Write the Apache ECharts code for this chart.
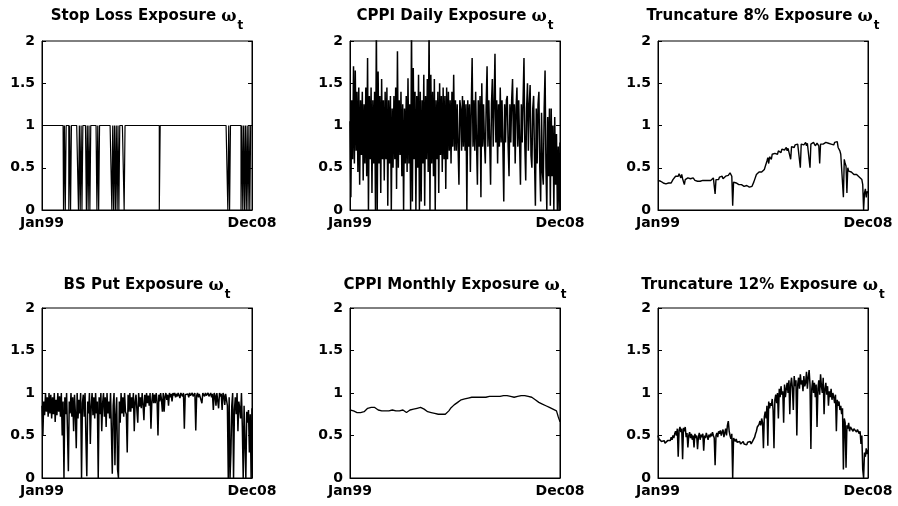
<!DOCTYPE html>
<html><head><meta charset="utf-8">
<script src="https://cdn.jsdelivr.net/npm/echarts@6/dist/echarts.min.js"></script>
<style>html,body{margin:0;padding:0;background:#fff}#c{width:898px;height:506px}</style>
</head><body><div id="c"></div>
<script>
// ---- categories ----
const monthNames = ['Jan','Feb','Mar','Apr','May','Jun','Jul','Aug','Sep','Oct','Nov','Dec'];
const yearCodes = ['99','00','01','02','03','04','05','06','07','08'];
const months = [];
yearCodes.forEach(y => monthNames.forEach(m => months.push(m + y)));      // 120 monthly periods
const halfMonths = [];
months.forEach(m => { halfMonths.push(m + 'a'); halfMonths.push(m + 'b'); }); // 240 half-month periods
const yTicks = [0, 0.5, 1, 1.5, 2];

// ---- series values ----
const stopLoss = [
1,1,1,1,1,1,1,1,1,1, 1,1,1,1,1,1,1,1,1,1,
1,1,1,1,1,0,1,0,1,1, 1,0,1,0,1,1,1,1,1,1,
1,1,0,1,0,1,0,1,1,1, 1,0,1,0,1,0,1,1,1,1,
1,1,1,0,1,0,1,1,1,1, 1,1,1,1,1,1,1,1,1,1,
0,1,0,1,0,1,0,1,0,1, 1,1,1,1,0,1,1,1,1,1,
1,1,1,1,1,1,1,1,1,1, 1,1,1,1,1,1,1,1,1,1,
1,1,1,1,1,1,1,1,1,1, 1,1,1,1,0,1,1,1,1,1,
1,1,1,1,1,1,1,1,1,1, 1,1,1,1,1,1,1,1,1,1,
1,1,1,1,1,1,1,1,1,1, 1,1,1,1,1,1,1,1,1,1,
1,1,1,1,1,1,1,1,1,1, 1,1,1,1,1,1,1,1,1,1,
1,1,1,1,1,1,1,1,1,1, 1,1,0,1,0,1,1,1,1,1,
1,1,1,1,1,1,1,0,1,0, 1,0,1,0,1,0,1,0,1,1
];

const cppiDaily = [
1.05,0.15,1.30,0.60,1.70,0.55,1.65,0.70,1.40,0.45,
1.45,0.30,1.30,0.65,1.40,0.35,1.25,0.55,1.45,0.40,
1.80,0.00,1.35,0.60,1.45,0.20,1.30,0.55,1.40,0.00,
2.20,0.00,1.64,0.55,1.35,0.20,1.55,0.60,1.30,0.35,
1.40,0.60,1.45,0.05,1.30,0.55,1.35,0.00,1.20,0.50,
1.35,0.60,1.45,0.25,1.88,0.50,1.30,0.65,1.40,0.40,
1.25,0.00,1.20,0.55,1.35,0.45,1.56,0.55,1.25,0.00,
2.20,0.10,1.68,0.60,1.40,0.00,1.35,0.50,1.60,0.00,
1.40,0.10,1.30,0.55,1.60,0.05,1.35,0.60,1.55,0.45,
2.20,0.00,1.60,0.55,1.40,0.40,1.55,0.00,1.30,0.60,
1.40,0.20,1.50,0.65,1.35,0.45,1.45,0.60,1.35,0.25,
1.45,0.60,1.40,0.70,1.30,0.55,1.40,0.75,1.60,0.70,
1.30,0.70,1.25,0.75,0.30,1.30,1.20,0.70,1.35,0.75,
1.30,0.70,1.25,0.00,1.30,0.75,1.25,0.45,1.20,1.80,
0.75,1.30,0.70,1.40,0.80,0.30,1.30,0.75,1.35,0.15,
1.50,0.75,1.25,0.80,0.55,1.25,1.70,0.75,1.30,0.80,
0.30,1.25,1.55,0.75,1.25,1.85,0.80,1.30,0.55,1.25,
0.75,1.45,0.80,1.30,0.75,0.10,1.25,0.80,1.30,1.35,
0.75,0.40,1.25,0.80,1.30,1.55,0.75,1.25,0.55,1.20,
1.45,0.75,1.30,0.80,0.30,1.25,0.80,1.30,1.80,0.75,
0.35,1.20,1.50,0.70,1.25,1.48,0.65,0.50,1.20,1.35,
0.60,0.05,1.20,0.55,1.25,1.40,0.50,0.10,1.15,0.45,
0.30,1.20,1.65,0.50,0.00,1.10,0.40,1.20,0.05,1.20,
0.40,1.00,0.00,1.10,0.30,0.90,0.00,0.75,0.00,0.80
];

const trunc8 = [
0.35,0.34,0.35,0.34,0.33,0.34,0.32,0.31,0.32,0.31,
0.32,0.31,0.32,0.31,0.33,0.32,0.34,0.36,0.35,0.38,
0.40,0.39,0.42,0.40,0.43,0.41,0.38,0.42,0.37,0.36,
0.30,0.36,0.37,0.35,0.38,0.36,0.40,0.37,0.35,0.36,
0.38,0.36,0.35,0.37,0.36,0.34,0.36,0.35,0.34,0.35,
0.33,0.35,0.34,0.36,0.35,0.34,0.33,0.35,0.36,0.34,
0.35,0.37,0.36,0.38,0.37,0.19,0.36,0.37,0.38,0.36,
0.39,0.37,0.38,0.40,0.37,0.39,0.38,0.40,0.41,0.42,
0.41,0.43,0.44,0.45,0.40,0.05,0.33,0.32,0.34,0.32,
0.31,0.32,0.30,0.31,0.29,0.30,0.29,0.30,0.28,0.29,
0.28,0.29,0.28,0.28,0.27,0.28,0.29,0.28,0.30,0.33,
0.34,0.35,0.42,0.44,0.43,0.45,0.44,0.46,0.45,0.47,
0.46,0.48,0.50,0.49,0.58,0.62,0.55,0.63,0.65,0.60,
0.66,0.68,0.64,0.67,0.69,0.68,0.66,0.70,0.69,0.71,
0.68,0.72,0.70,0.73,0.71,0.72,0.74,0.70,0.73,0.75,
0.74,0.60,0.75,0.73,0.76,0.74,0.77,0.75,0.76,0.78,
0.77,0.79,0.50,0.78,0.76,0.79,0.77,0.78,0.80,0.76,
0.79,0.78,0.77,0.50,0.78,0.79,0.77,0.80,0.78,0.76,
0.78,0.79,0.77,0.76,0.55,0.78,0.79,0.80,0.78,0.77,
0.79,0.80,0.78,0.81,0.79,0.77,0.80,0.78,0.76,0.79,
0.77,0.80,0.78,0.79,0.81,0.74,0.72,0.70,0.66,0.68,
0.65,0.15,0.60,0.55,0.52,0.20,0.50,0.46,0.45,0.44,
0.45,0.43,0.44,0.42,0.43,0.41,0.42,0.40,0.41,0.39,
0.38,0.37,0.36,0.30,0.00,0.20,0.25,0.15,0.22,0.20
];

const bsPut = [
0.85,0.50,0.90,0.74,1.00,0.78,0.95,0.72,1.00,0.76,
0.98,0.70,0.95,0.75,1.00,0.66,0.92,0.74,1.00,0.78,
0.96,0.72,1.00,0.50,0.90,0.00,0.95,0.75,1.00,0.55,
0.08,0.90,0.76,1.00,0.72,0.95,0.55,0.98,0.76,0.35,
1.00,0.70,0.92,0.76,1.00,0.00,0.88,0.98,0.72,1.00,
0.45,0.02,0.90,0.76,1.00,0.40,0.85,1.00,0.74,0.95,
0.70,1.00,0.76,0.90,0.00,0.95,0.75,1.00,0.55,0.88,
1.00,0.72,0.95,0.60,1.00,0.76,0.90,0.70,1.00,0.55,
0.05,0.85,1.00,0.15,0.74,0.95,0.10,0.00,0.90,0.65,
1.00,0.76,0.95,0.72,1.00,0.78,0.75,0.30,0.98,0.78,
1.00,0.78,0.95,0.82,1.00,0.55,0.90,0.98,0.80,0.65,
1.00,0.84,0.95,0.82,1.00,0.86,0.68,0.98,0.84,1.00,
0.88,0.97,0.85,1.00,0.58,0.90,1.00,0.88,0.98,0.88,
1.00,0.90,0.50,0.98,0.90,1.00,0.92,0.78,1.00,0.78,
0.96,1.00,0.92,0.98,0.85,1.00,0.95,0.99,0.90,1.00,
0.97,1.00,0.95,0.99,0.96,1.00,0.97,0.94,1.00,0.98,
0.96,1.00,0.58,0.98,1.00,0.96,0.99,0.95,1.00,0.97,
0.99,1.00,0.96,0.98,1.00,0.56,0.97,1.00,0.95,0.99,
1.00,0.97,0.88,1.00,0.98,0.96,1.00,0.97,0.99,1.00,
0.96,0.98,1.00,0.95,0.99,0.80,1.00,0.97,0.85,1.00,
0.98,0.82,1.00,0.96,0.99,0.80,1.00,0.97,0.86,0.99,
1.00,0.85,0.00,0.95,0.00,0.30,0.85,1.00,0.00,0.80,
0.95,0.75,1.00,0.55,0.90,0.82,0.70,1.00,0.60,0.00,
0.85,0.40,0.00,0.78,0.65,0.80,0.30,0.75,0.00,0.82
];

const cppiMonthly = [
0.80,0.79,0.79,0.78,0.77, 0.76,0.77,0.78,0.78,0.79,
0.82,0.83,0.83,0.84,0.83, 0.82,0.80,0.79,0.79,0.80,
0.79,0.80,0.79,0.79,0.80, 0.79,0.79,0.80,0.79,0.79,
0.80,0.79,0.77,0.79,0.80, 0.80,0.81,0.81,0.82,0.82,
0.83,0.83,0.81,0.79,0.78, 0.77,0.77,0.76,0.76,0.76,
0.75,0.75,0.75,0.74,0.75, 0.77,0.79,0.82,0.84,0.86,
0.88,0.89,0.90,0.92,0.93, 0.93,0.94,0.94,0.94,0.95,
0.94,0.95,0.95,0.95,0.95, 0.95,0.96,0.95,0.96,0.96,
0.96,0.96,0.96,0.96,0.97, 0.96,0.97,0.97,0.96,0.97,
0.96,0.96,0.95,0.95,0.96, 0.96,0.96,0.97,0.96,0.97,
0.97,0.96,0.96,0.95,0.93, 0.92,0.91,0.89,0.88,0.87,
0.86,0.85,0.84,0.83,0.82, 0.81,0.81,0.79,0.72,0.66
];

const trunc12 = [
0.50,0.46,0.44,0.47,0.43,0.45,0.42,0.44,0.41,0.43,
0.40,0.44,0.42,0.46,0.44,0.48,0.45,0.50,0.47,0.52,
0.55,0.50,0.58,0.25,0.56,0.60,0.54,0.58,0.22,0.59,
0.55,0.60,0.48,0.53,0.36,0.50,0.54,0.47,0.52,0.45,
0.50,0.36,0.52,0.47,0.50,0.34,0.48,0.53,0.45,0.51,
0.48,0.52,0.32,0.50,0.47,0.53,0.49,0.45,0.51,0.48,
0.52,0.49,0.54,0.50,0.47,0.15,0.50,0.53,0.48,0.55,
0.52,0.56,0.50,0.54,0.57,0.48,0.53,0.58,0.50,0.62,
0.67,0.55,0.50,0.46,0.52,0.00,0.47,0.45,0.43,0.46,
0.42,0.44,0.41,0.43,0.40,0.42,0.41,0.43,0.40,0.42,
0.41,0.39,0.42,0.40,0.41,0.43,0.40,0.42,0.44,0.45,
0.48,0.52,0.55,0.60,0.58,0.63,0.67,0.62,0.70,0.65,
0.35,0.72,0.78,0.70,0.85,0.38,0.90,0.82,0.88,0.85,
0.93,0.80,0.35,0.92,0.98,0.88,1.00,0.70,1.05,0.95,
1.08,0.98,1.02,0.65,1.10,0.95,1.05,1.12,1.00,1.15,
0.75,1.10,1.18,1.05,0.80,1.20,1.08,1.15,0.50,1.10,
1.18,1.05,1.22,1.10,1.15,1.02,1.20,1.08,1.12,1.25,
1.05,1.18,1.27,1.10,0.34,1.05,1.15,1.00,1.12,0.95,
1.10,0.60,1.05,1.15,0.98,1.22,1.08,1.00,1.18,0.75,
1.05,1.12,0.98,1.08,0.85,1.02,0.95,1.05,0.92,1.00,
0.95,0.88,0.98,0.55,0.92,0.85,0.90,0.80,0.85,0.75,
0.82,0.10,0.70,0.65,0.12,0.62,0.58,0.65,0.55,0.60,
0.58,0.62,0.55,0.58,0.56,0.60,0.54,0.57,0.55,0.52,
0.55,0.40,0.50,0.10,0.00,0.30,0.25,0.35,0.28,0.33
];

// ---- layout ----
const panels = [
  {name: 'Stop Loss Exposure', data: stopLoss, cats: halfMonths, step: 'middle', lw: 1.2, left: 42, top: 41, h: 169, ty: 9},
  {name: 'CPPI Daily Exposure', data: cppiDaily, cats: halfMonths, lw: 1.5, left: 350, top: 41, h: 169, ty: 9},
  {name: 'Truncature 8% Exposure', data: trunc8, cats: halfMonths, lw: 1.4, left: 658, top: 41, h: 169, ty: 9},
  {name: 'BS Put Exposure', data: bsPut, cats: halfMonths, lw: 1.5, left: 42, top: 308, h: 170, ty: 278},
  {name: 'CPPI Monthly Exposure', data: cppiMonthly, cats: months, lw: 1.3, left: 350, top: 308, h: 170, ty: 278},
  {name: 'Truncature 12% Exposure', data: trunc12, cats: halfMonths, lw: 1.5, left: 658, top: 308, h: 170, ty: 278}
];
const W = 210;
const FONT = 'DejaVu Sans';
const labelStyle = {fontFamily: FONT, fontWeight: 'bold', fontSize: 14, color: '#000'};

const option = {
  backgroundColor: '#fff',
  animation: false,
  title: [], grid: [], xAxis: [], yAxis: [], series: []
};
panels.forEach((p, k) => {
  option.title.push({
    text: '{a|' + p.name + ' }{w|ω}{t|t}',
    left: p.left + W / 2, top: p.ty, textAlign: 'center', padding: 0,
    textStyle: {
      rich: {
        a: {fontFamily: FONT, fontWeight: 'bold', fontSize: 15, color: '#000', verticalAlign: 'top', lineHeight: 14},
        w: {fontFamily: 'DejaVu Serif', fontSize: 16, color: '#000', verticalAlign: 'top', lineHeight: 14},
        t: {fontFamily: FONT, fontWeight: 'bold', fontSize: 12, color: '#000', verticalAlign: 'top', lineHeight: 12, padding: [11, 0, 0, 1]}
      }
    }
  });
  option.grid.push({
    left: p.left, top: p.top, width: W, height: p.h,
    show: true, borderColor: '#000', borderWidth: 1, backgroundColor: '#fff',
    containLabel: false, outerBoundsMode: 'none'
  });
  const n = p.cats.length;
  option.xAxis.push({
    type: 'category', gridIndex: k, data: p.cats, boundaryGap: false,
    axisLine: {show: true, lineStyle: {color: '#000', width: 1}},
    axisTick: {show: false}, splitLine: {show: false},
    axisLabel: Object.assign({
      interval: (i) => i === 0 || i === n - 1,
      formatter: (v) => v.replace(/[ab]$/, ''),
      margin: 6
    }, labelStyle)
  });
  const yBase = {
    type: 'value', gridIndex: k, min: yTicks[0], max: yTicks[yTicks.length - 1],
    interval: yTicks[1] - yTicks[0],
    splitLine: {show: false},
    axisLine: {show: true, lineStyle: {color: '#000', width: 1}},
    axisTick: {show: true, inside: true, length: 4, lineStyle: {color: '#000'}}
  };
  option.yAxis.push(Object.assign({}, yBase, {
    position: 'left',
    axisLabel: Object.assign({margin: 7}, labelStyle)
  }));
  option.yAxis.push(Object.assign({}, yBase, {
    position: 'right', axisLabel: {show: false}
  }));
  const s = {
    type: 'line', xAxisIndex: k, yAxisIndex: 2 * k, data: p.data,
    showSymbol: false, symbol: 'none', clip: true, sampling: null,
    lineStyle: {color: '#000', width: p.lw}, itemStyle: {color: '#000'}
  };
  if (p.step) s.step = p.step;
  option.series.push(s);
});

const chart = echarts.init(document.getElementById('c'), null, {renderer: 'canvas'});
chart.setOption(option);
</script>
</body></html>
